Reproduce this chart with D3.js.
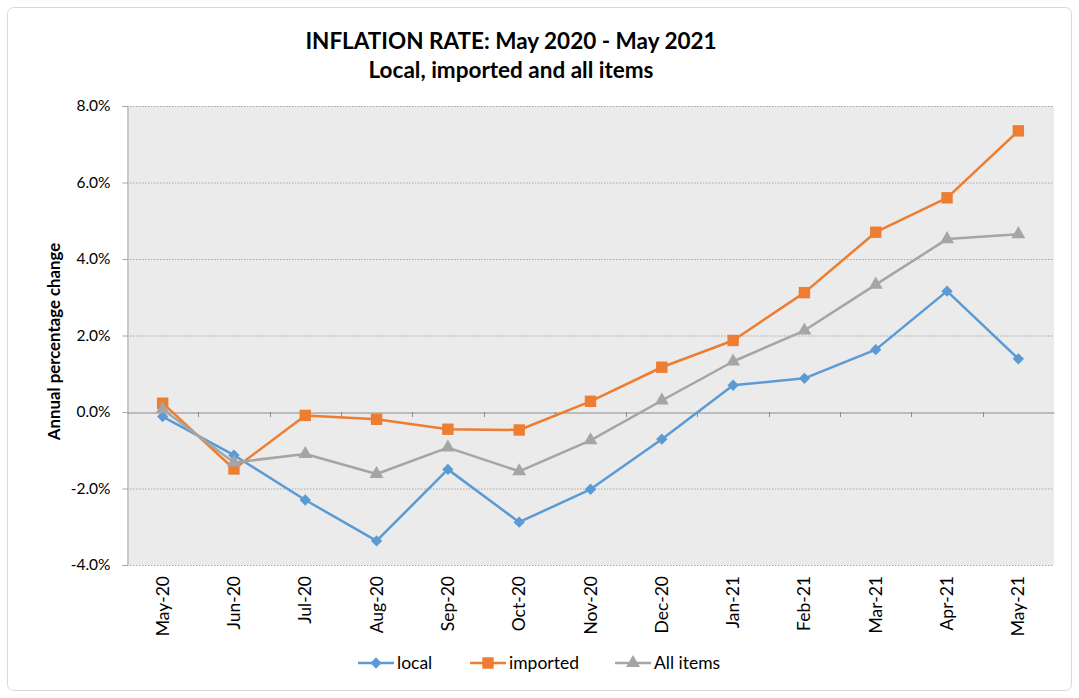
<!DOCTYPE html>
<html><head><meta charset="utf-8">
<script src="https://cdn.jsdelivr.net/npm/d3@7/dist/d3.min.js"></script>
<style>body{margin:0;background:#fff}svg{display:block}</style>
</head><body>
<svg id="c" width="1079" height="698"></svg>
<script>
const categories = ["May-20","Jun-20","Jul-20","Aug-20","Sep-20","Oct-20","Nov-20","Dec-20","Jan-21","Feb-21","Mar-21","Apr-21","May-21"];
const localValues = [-0.12,-1.13,-2.3,-3.37,-1.5,-2.88,-2.02,-0.71,0.7,0.88,1.63,3.16,1.39];
const importedValues = [0.23,-1.49,-0.09,-0.19,-0.45,-0.47,0.28,1.17,1.87,3.12,4.7,5.6,7.35];
const allItemsValues = [0.07,-1.32,-1.1,-1.62,-0.93,-1.55,-0.74,0.3,1.32,2.13,3.33,4.52,4.65];
const yTicks = [-4,-2,0,2,4,6,8];
const seriesNames = ["local","imported","All items"];

const font = "Lato, 'Open Sans', sans-serif";
const svg = d3.select("#c");
const L = 127, R = 1054, T = 106, B = 565;

svg.append("rect").attr("x",7.5).attr("y",7.5).attr("width",1064).attr("height",683)
  .attr("rx",6).attr("fill","#fff").attr("stroke","#d9d9d9");

const x = d3.scaleBand().domain(categories).range([L,R]);
const y = d3.scaleLinear().domain([-4,8]).range([B,T]);

svg.append("rect").attr("x",L).attr("y",T).attr("width",R-L).attr("height",B-T).attr("fill","#ebebeb");

// gridlines
svg.append("g").selectAll("line").data(yTicks.filter(d=>d!==0)).join("line")
  .attr("x1",L).attr("x2",R).attr("y1",d=>y(d)+0.5).attr("y2",d=>y(d)+0.5)
  .attr("stroke","#a6a6a6").attr("stroke-dasharray","1.5,1.5");

// y axis
const ya = svg.append("g").attr("transform",`translate(${L+0.5},0)`)
  .call(d3.axisLeft(y).tickValues(yTicks).tickSize(5).tickPadding(12).tickFormat(d=>d.toFixed(1)+"%"));
ya.select(".domain").attr("stroke","#a6a6a6");
ya.selectAll(".tick line").attr("stroke","#a6a6a6");
ya.selectAll("text").attr("font-family",font).attr("font-size",15.5).attr("fill","#000");

// x axis at 0
const xa = svg.append("g").attr("transform",`translate(0,${y(0)+0.5})`)
  .call(d3.axisBottom(x).tickSize(0).tickFormat(""));
xa.select(".domain").attr("stroke","#8c8c8c");
svg.append("g").selectAll("line").data(categories.slice(1)).join("line")
  .attr("x1",d=>Math.round(x(d))+0.5).attr("x2",d=>Math.round(x(d))+0.5)
  .attr("y1",y(0)).attr("y2",y(0)+5).attr("stroke","#8c8c8c");

// x labels (below plot)
svg.append("g").selectAll("text").data(categories).join("text")
  .attr("transform",d=>`translate(${x(d)+x.bandwidth()/2+6},${B+11}) rotate(-90)`)
  .attr("text-anchor","end").attr("font-family",font).attr("font-size",17.5).text(d=>d);

// y label
svg.append("text").attr("transform",`translate(60,${(T+B)/2+6}) rotate(-90)`)
  .attr("text-anchor","middle").attr("font-family",font).attr("font-size",16.8).attr("font-weight","bold")
  .text("Annual percentage change");

// title
svg.append("text").attr("x",511).attr("y",49).attr("text-anchor","middle").attr("font-family",font)
  .attr("font-size",22.5).attr("font-weight","bold").text("INFLATION RATE: May 2020 - May 2021");
svg.append("text").attr("x",511).attr("y",78).attr("text-anchor","middle").attr("font-family",font)
  .attr("font-size",22.5).attr("font-weight","bold").text("Local, imported and all items");

const cx = d => x(d)+x.bandwidth()/2;
const series = [
  {name:seriesNames[0], vals:localValues, color:"#5b9bd5", sym:d3.symbolSquare, size:64, rot:45},
  {name:seriesNames[1], vals:importedValues, color:"#ed7d31", sym:d3.symbolSquare, size:130, rot:0},
  {name:seriesNames[2], vals:allItemsValues, color:"#a5a5a5", sym:d3.symbolTriangle, size:85, rot:0}
];
const line = d3.line().x((d,i)=>cx(categories[i])).y(d=>y(d));
series.forEach(s=>{
  svg.append("path").datum(s.vals).attr("d",line).attr("fill","none").attr("stroke",s.color).attr("stroke-width",2.5).attr("stroke-linejoin","round");
  svg.append("g").selectAll("path").data(s.vals).join("path")
    .attr("transform",(d,i)=>`translate(${cx(categories[i])},${y(d)}) rotate(${s.rot})`)
    .attr("d",d3.symbol().type(s.sym).size(s.size)).attr("fill",s.color);
});

// legend
const legX = [358, 470, 615];
series.forEach((s,i)=>{
  const g = svg.append("g").attr("transform",`translate(${legX[i]},663)`);
  g.append("line").attr("x1",0).attr("x2",36).attr("stroke",s.color).attr("stroke-width",2.5);
  g.append("path").attr("transform",`translate(18,0) rotate(${s.rot})`).attr("d",d3.symbol().type(s.sym).size(s.size)).attr("fill",s.color);
  g.append("text").attr("x",39).attr("y",6).attr("font-family",font).attr("font-size",17.5).text(s.name);
});
</script>
</body></html>
